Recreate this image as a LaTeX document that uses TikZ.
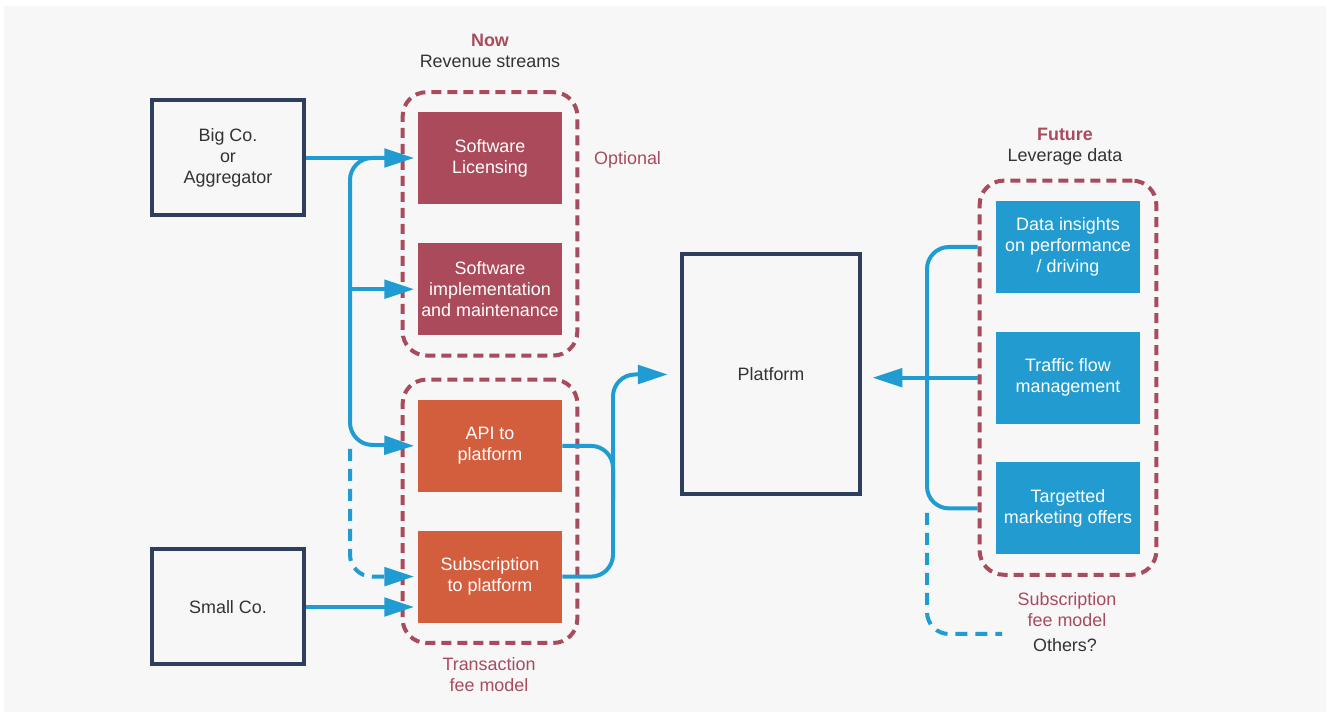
\documentclass[tikz,border=0pt]{standalone}
\usepackage{fontspec}
\setmainfont{Liberation Sans}
\usetikzlibrary{arrows.meta,positioning,fit}
\definecolor{bggray}{HTML}{F7F7F7}
\definecolor{boxnavy}{HTML}{2F3E5D}
\definecolor{streamred}{HTML}{AA4A5B}
\definecolor{feeorange}{HTML}{D35E3E}
\definecolor{databoxblue}{HTML}{229CD0}
\definecolor{linkblue}{HTML}{219CD3}
\definecolor{dashred}{HTML}{A84B5C}
\definecolor{textgray}{HTML}{333333}
\newlength{\pxu}
\setlength{\pxu}{0.02cm}

\begin{document}
\begin{tikzpicture}[x=\pxu,y=-\pxu,
    node distance=38\pxu,
    every node/.style={font=\fontsize{10.2}{12}\selectfont},
    company/.style={rectangle,draw=boxnavy,line width=4\pxu,minimum width=152\pxu,
                    minimum height=115\pxu,align=center,text=textgray},
    stream/.style={rectangle,minimum width=144\pxu,minimum height=92\pxu,inner xsep=1pt,
                   align=center,text=white},
    group/.style={draw=dashred,dash pattern=on 10\pxu off 6\pxu,line width=4\pxu,
                  rounded corners=24\pxu,inner xsep=15\pxu,inner ysep=20\pxu},
    note/.style={text=dashred,align=center},
    link/.style={draw=linkblue,line width=4\pxu,rounded corners=22\pxu},
    dotlink/.style={link,dash pattern=on 12\pxu off 8\pxu},
    arrow/.style={link,shorten >=2pt,-{Triangle[length=17pt,width=10.5pt]}}
]
    \useasboundingbox (0,0) rectangle (1330,715);
    \fill[white] (0,0) rectangle (1330,715);
    \fill[bggray] (4,6) rectangle (1326,712);

    \node[company] (bigco) at (228,158) {Big Co.\\or\\Aggregator};
    \node[company] (smallco) at (228,607) {Small Co.};
    \node[company,minimum width=178\pxu,minimum height=240\pxu] (platform) at (771,374.5) {Platform};

    \node[stream,fill=streamred] (lic) at (490,158.5) {Software\\Licensing};
    \node[stream,fill=streamred,below=of lic] (impl) {Software\\implementation\\and maintenance};
    \node[stream,fill=feeorange,below=64\pxu of impl] (api) {API to\\platform};
    \node[stream,fill=feeorange,below=of api] (sub) {Subscription\\to platform};

    \node[stream,fill=databoxblue] (data) at (1068,247) {Data insights\\on performance\\/ driving};
    \node[stream,fill=databoxblue,below=of data] (traffic) {Traffic flow\\management};
    \node[stream,fill=databoxblue,below=of traffic] (target) {Targetted\\marketing offers};

    \node[group,fit=(lic)(impl)] (optbox) {};
    \node[group,fit=(api)(sub)] (txbox) {};
    \node[group,fit=(data)(target),inner xsep=16\pxu] (futbox) {};

    \node[align=center,text=textgray] (now) at (490,51) {\textcolor{dashred}{\bfseries Now}\\Revenue streams};
    \node[note,anchor=west] (optional) at (588,160) {Optional};
    \node[note] (txlabel) at (489,674.5) {Transaction\\fee model};
    \node[align=center,text=textgray] (future) at (1065,147) {\textcolor{dashred}{\bfseries Future}\\Leverage data};
    \node[note] (subfee) at (1067,609.5) {Subscription\\fee model};
    \node[text=textgray] (others) at (1065,645) {Others?};

    \coordinate (fork) at (390,158);
    \coordinate (trunk) at (350,444.5);
    \coordinate (dashtop) at (350,449);
    \coordinate (merge) at (613,500);
    \coordinate (brace) at (927,380);
    \coordinate (odash) at (927,513);
    \coordinate (oend) at (1002,634);

    \draw[arrow] (bigco.east) -- (bigco.east -| lic.west);
    \draw[arrow] (fork) -| (trunk) -- (api.west);
    \draw[arrow] (trunk |- impl.west) -- (impl.west);
    \draw[arrow,dotlink] (dashtop) |- (sub.west);
    \draw[arrow] (smallco.east) -- (smallco.east -| sub.west);
    \draw[link] (api.east) -| (merge);
    \draw[arrow,shorten >=7pt] (sub.east) -| (merge) |- (platform.west);
    \draw[arrow,shorten >=6pt] (futbox.west |- traffic) -- (platform.east |- traffic);
    \draw[link] (futbox.west |- data) -| (brace) |- (futbox.west |- target);
    \draw[dotlink] (odash) |- (oend);
\end{tikzpicture}
\end{document}
